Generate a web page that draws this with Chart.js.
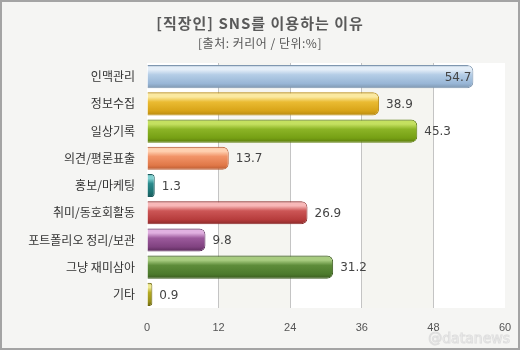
<!DOCTYPE html>
<html><head><meta charset="utf-8">
<script src="https://cdn.jsdelivr.net/npm/chart.js@4.4.1/dist/chart.umd.min.js"></script>
<style>html,body{margin:0;padding:0;background:#f5f5f3;}canvas{display:block;}</style>
</head><body>
<canvas id="c" width="520" height="350"></canvas>
<script>
const titleText = '[직장인] SNS를 이용하는 이유';
const subtitleText = '[출처: 커리어 / 단위:%]';
const watermark = '@datanews';
const categories = ['인맥관리','정보수집','일상기록','의견/평론표출','홍보/마케팅','취미/동호회활동','포트폴리오 정리/보관','그냥 재미삼아','기타'];
const values = [54.7, 38.9, 45.3, 13.7, 1.3, 26.9, 9.8, 31.2, 0.9];
const xTicks = [0, 12, 24, 36, 48, 60];
const barColors = [
  ['#7f97b0','#e4eef8','#b4cde6','#98b6d6'],
  ['#b88a10','#fbe9a0','#eabb32','#d8a418'],
  ['#5c7c0c','#c4e060','#8cb426','#76a014'],
  ['#b85a30','#ffd0b0','#f29468','#e07848'],
  ['#1a5a5c','#80d0d0','#2a8a8c','#1c7070'],
  ['#8a2a2a','#f8b8b8','#cc5656','#b63c3c'],
  ['#5a2a5a','#e0b0e0','#9c5a9c','#804280'],
  ['#3a5a1e','#a8cc80','#5e8c3a','#4c7a2c'],
  ['#6e6810','#eee890','#b4aa22','#98901a']
];

function barFill(ctx) {
  const chart = ctx.chart;
  const i = ctx.dataIndex;
  const c = barColors[i];
  if (!chart.chartArea) return c[2];
  const ys = chart.scales.y;
  const step = ys.getPixelForValue(1) - ys.getPixelForValue(0);
  const cy = ys.getPixelForValue(i);
  const h = step * 0.85 / 2;
  const g = chart.ctx.createLinearGradient(0, cy - h, 0, cy + h);
  g.addColorStop(0, c[0]);
  g.addColorStop(0.08, c[1]);
  g.addColorStop(0.2, c[1]);
  g.addColorStop(0.42, c[2]);
  g.addColorStop(0.8, c[3]);
  g.addColorStop(1, c[0]);
  return g;
}

const bgPlugin = {
  id: 'bg',
  beforeDraw(chart) {
    const ctx = chart.ctx, a = chart.chartArea, xs = chart.scales.x;
    ctx.save();
    ctx.fillStyle = '#f5f5f3';
    ctx.fillRect(0, 0, chart.width, chart.height);
    for (let k = 0; k < xTicks.length - 1; k++) {
      const x0 = xs.getPixelForValue(xTicks[k]);
      const x1 = xs.getPixelForValue(xTicks[k + 1]);
      ctx.fillStyle = (k % 2 === 0) ? '#ffffff' : '#f5f5f1';
      ctx.fillRect(x0, a.top, x1 - x0, a.bottom - a.top);
    }
    ctx.restore();
  },
  afterDraw(chart) {
    const ctx = chart.ctx;
    ctx.save();
    ctx.textAlign = 'center';
    ctx.textBaseline = 'middle';
    ctx.fillStyle = '#5a5a5a';
    ctx.font = 'bold 15px "Noto Sans CJK KR", sans-serif';
    ctx.letterSpacing = '1px';
    ctx.fillText(titleText, 260, 23);
    ctx.font = '12px "Noto Sans CJK KR", sans-serif';
    ctx.letterSpacing = '0.5px';
    ctx.fillStyle = '#555555';
    ctx.fillText(subtitleText, 260, 43);
    ctx.letterSpacing = '0px';
    ctx.font = '14px "DejaVu Sans", sans-serif';
    ctx.textAlign = 'right';
    ctx.lineWidth = 1;
    ctx.strokeStyle = 'rgba(215,215,215,0.8)';
    ctx.fillStyle = 'rgba(255,255,255,0.9)';
    ctx.fillText(watermark, 510, 339);
    ctx.strokeText(watermark, 510, 339);
    ctx.strokeStyle = '#a4a4a4';
    ctx.lineWidth = 2;
    ctx.strokeRect(1, 1, chart.width - 2, chart.height - 2);
    ctx.restore();
  },
  afterDatasetsDraw(chart) {
    const ctx = chart.ctx;
    const meta = chart.getDatasetMeta(0);
    ctx.save();
    ctx.font = '12px "DejaVu Sans", sans-serif';
    ctx.fillStyle = '#444444';
    ctx.textBaseline = 'middle';
    meta.data.forEach((el, i) => {
      const txt = values[i].toFixed(1);
      if (values[i] > 50) {
        ctx.textAlign = 'right';
        ctx.fillText(txt, el.x - 2, el.y + 1);
      } else {
        ctx.textAlign = 'left';
        ctx.fillText(txt, el.x + 7, el.y + 1);
      }
    });
    ctx.restore();
  }
};

new Chart(document.getElementById('c'), {
  type: 'bar',
  data: {
    labels: categories,
    datasets: [{
      data: values,
      backgroundColor: barFill,
      borderColor: (ctx) => barColors[ctx.dataIndex][0],
      borderWidth: 1,
      borderRadius: 6,
      borderSkipped: 'start',
      barPercentage: 0.85,
      categoryPercentage: 1.0
    }]
  },
  options: {
    indexAxis: 'y',
    responsive: false,
    animation: false,
    devicePixelRatio: 1,
    layout: { padding: { left: 0, right: 15, top: 63, bottom: 0 } },
    plugins: { legend: { display: false }, tooltip: { enabled: false }, title: { display: false } },
    scales: {
      x: {
        min: 0, max: 60,
        afterBuildTicks(s) { s.ticks = xTicks.map(v => ({ value: v })); },
        afterFit(s) { s.height = 42; s.paddingLeft = 0; s.paddingRight = 0; },
        border: { display: false },
        grid: {
          drawTicks: false,
          color: (c) => (c.tick && (c.tick.value === 0 || c.tick.value === 60)) ? 'rgba(0,0,0,0)' : '#c4c4c4',
          lineWidth: 1
        },
        ticks: {
          padding: 13,
          color: '#555555',
          font: { family: '"Liberation Sans", sans-serif', size: 11 },
          maxRotation: 0
        }
      },
      y: {
        afterFit(s) { s.width = 147; s.paddingTop = 0; s.paddingBottom = 0; },
        border: { display: false },
        grid: { display: false, drawTicks: false },
        ticks: {
          padding: 12,
          color: '#333333',
          font: { family: '"Noto Sans CJK KR", sans-serif', size: 12 }
        }
      }
    }
  },
  plugins: [bgPlugin]
});
</script>
</body></html>
